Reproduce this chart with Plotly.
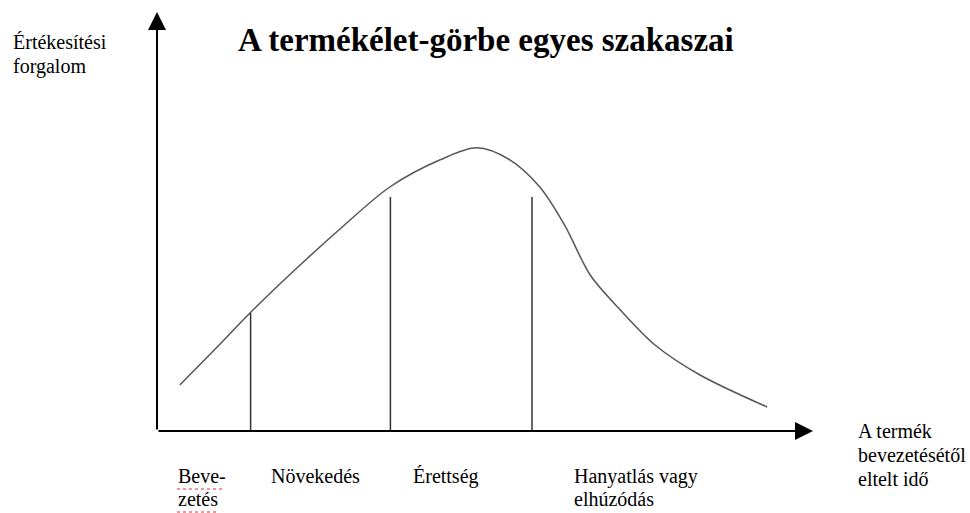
import plotly.graph_objects as go

# Termékéletgörbe pontjai (idő, forgalom)
ido = [3.8, 9.7, 15.5, 23.0, 30.5, 38.8, 47.2, 53.3, 58.8, 63.8, 68.0, 72.2,
       77.2, 83.0, 90.5, 101.7]
forgalom = [11.5, 20.5, 29.5, 40.3, 50.5, 61.0, 67.8, 70.8, 67.8, 61.0, 51.3, 39.0,
            30.3, 21.5, 14.0, 6.0]

# Szakaszhatárok
hatar_ido = [15.6, 38.9, 62.5]
hatar_magassag = [29.5, 58.5, 58.5]

# Szakaszok nevei
szakaszok = [['Beve-', 'zetés'], ['Növekedés'], ['Érettség'], ['Hanyatlás vagy', 'elhúzódás']]
szakasz_x = [3.3, 18.8, 42.5, 69.3]

cim = 'A termékélet-görbe egyes szakaszai'
y_cimke = ['Értékesítési', 'forgalom']
x_cimke = ['A termék', 'bevezetésétől', 'eltelt idő']

# skála: 1 egység idő = 6 px, 1 egység forgalom = 4 px, origó (157, 431)
PX_X, PX_Y = 6.0, 4.0
X0, Y0 = 157, 431
W, H = 970, 513

def px_x(t):
    return (t - X0) / PX_X

def px_y(p):
    return (Y0 - p) / PX_Y

FONT = 'Liberation Serif'

fig = go.Figure()

fig.add_trace(go.Scatter(x=ido, y=forgalom, mode='lines', line=dict(color='#555555', width=1.5, shape='spline', smoothing=0.9),
                         hoverinfo='skip'))

for t, h in zip(hatar_ido, hatar_magassag):
    fig.add_trace(go.Scatter(x=[t, t], y=[0, h], mode='lines', line=dict(color='#333333', width=1.5), hoverinfo='skip'))

# tengelyek nyíllal
fig.add_annotation(x=0, y=px_y(12), ax=0, ay=0, axref='x', ayref='y', xref='x', yref='y', text='',
                   showarrow=True, arrowhead=2, arrowsize=1.8, arrowwidth=2, arrowcolor='black')
fig.add_annotation(x=px_x(813), y=0, ax=0, ay=0, axref='x', ayref='y', xref='x', yref='y', text='',
                   showarrow=True, arrowhead=2, arrowsize=1.8, arrowwidth=2, arrowcolor='black')

fig.add_annotation(x=px_x(486), y=px_y(40), text='<b>' + cim + '</b>', showarrow=False, xanchor='center', yanchor='middle',
                   font=dict(family=FONT, size=33, color='black'))

def felirat(sorok, x_px, y_px, sor=24, size=20):
    for i, s in enumerate(sorok):
        fig.add_annotation(x=px_x(x_px), y=px_y(y_px + i * sor), text=s, showarrow=False, xanchor='left', yanchor='middle',
                           font=dict(family=FONT, size=size, color='black'))

felirat(y_cimke, 11, 42)
felirat(x_cimke, 856, 431)
for sorok, sx in zip(szakaszok, szakasz_x):
    felirat(sorok, X0 + sx * PX_X - 1, 476, sor=23)

# helyesírás-ellenőrző piros aláhúzása a "Beve-zetés" alatt
for y_px, x_end in [(489, 222), (512, 218)]:
    fig.add_trace(go.Scatter(x=[px_x(177), px_x(x_end)], y=[px_y(y_px)] * 2, mode='lines',
                             line=dict(color='#e03030', width=1, dash='dot'), hoverinfo='skip'))

fig.update_layout(
    width=W, height=H, margin=dict(l=0, r=0, t=0, b=0),
    paper_bgcolor='white', plot_bgcolor='white', showlegend=False,
    xaxis=dict(range=[px_x(0), px_x(W)], visible=False, fixedrange=True),
    yaxis=dict(range=[px_y(H), px_y(0)], visible=False, fixedrange=True),
)

fig.write_html('out.html', config={'displayModeBar': False}, post_script="document.body.style.margin='0';")
